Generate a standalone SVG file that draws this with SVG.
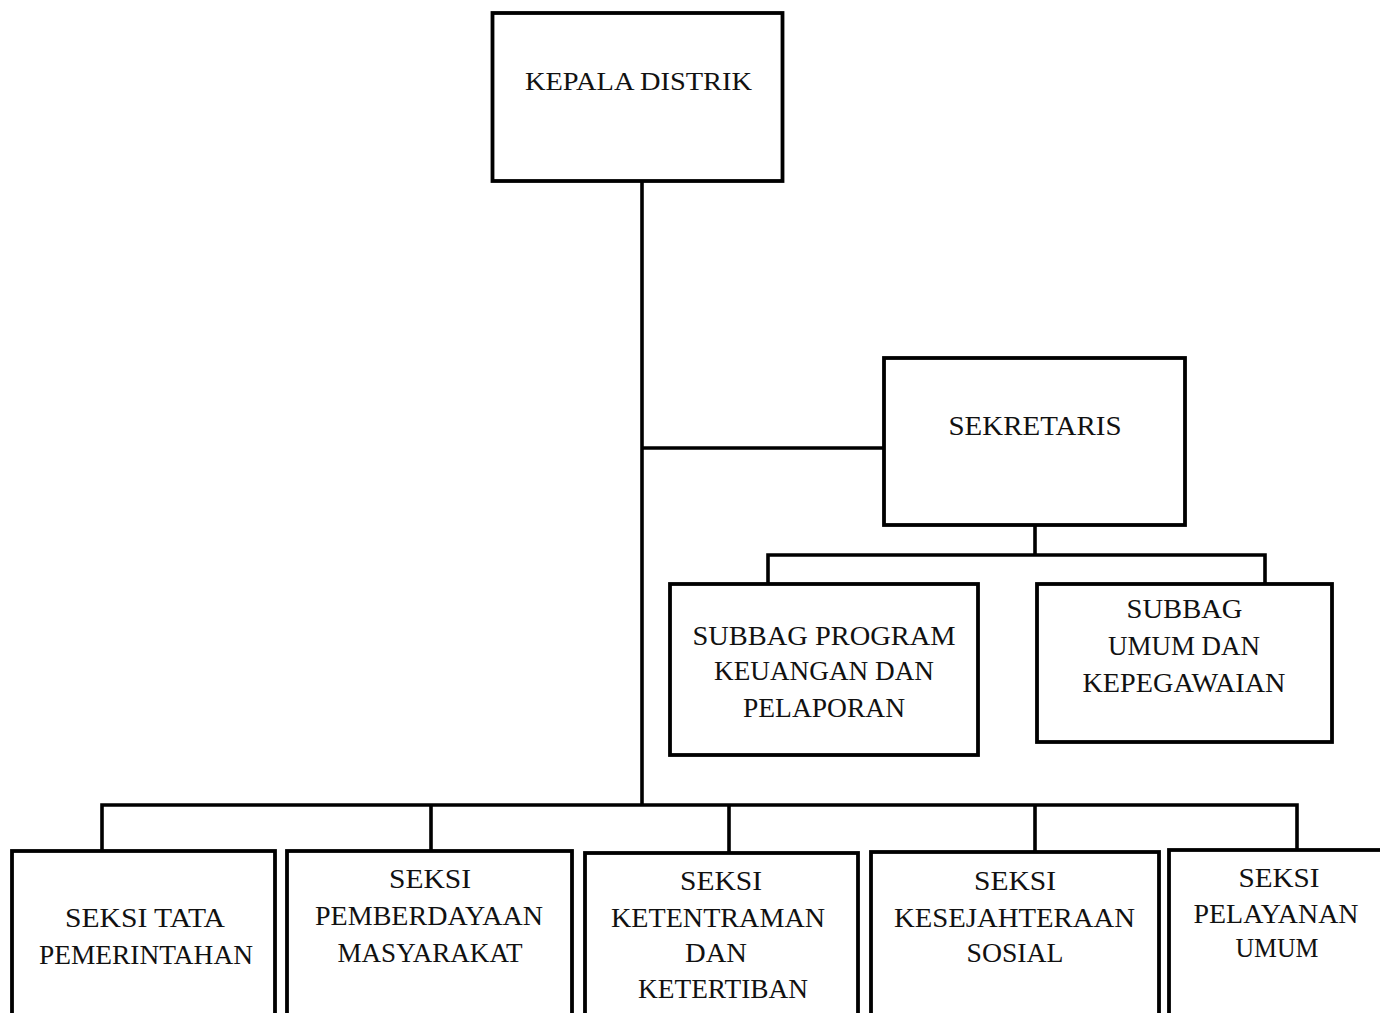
<svg xmlns="http://www.w3.org/2000/svg" width="1380" height="1013" viewBox="0 0 1380 1013">
<style>
.box{fill:#fff;stroke:#000;stroke-width:3.8}
.ln{fill:none;stroke:#000;stroke-width:3.6}
text{font-family:"Liberation Serif","Times New Roman",serif;font-size:27px;fill:#111;text-anchor:middle}
.sm{font-size:25px}
</style>
<rect width="1380" height="1013" fill="#fff"/>
<g id="connectors">
<path class="ln" d="M642 182V805"/>
<path class="ln" d="M642 448H884"/>
<path class="ln" d="M1035 526V555M768 583V555H1265V583"/>
<path class="ln" d="M102 851V805H1297V851M431 805V851M729 805V853M1035 805V852"/>
</g>
<g id="kepala"><rect class="box" x="492.5" y="13" width="290" height="168"/><text class="sm" x="638.5" y="90" textLength="227" lengthAdjust="spacingAndGlyphs">KEPALA DISTRIK</text></g>
<g id="sekretaris"><rect class="box" x="884" y="358" width="301" height="167"/><text x="1035" y="435" textLength="173" lengthAdjust="spacingAndGlyphs">SEKRETARIS</text></g>
<g id="subbag-program"><rect class="box" x="670" y="584" width="308" height="171"/><text x="824" y="645" textLength="263" lengthAdjust="spacingAndGlyphs">SUBBAG PROGRAM</text><text x="824" y="680" textLength="220" lengthAdjust="spacingAndGlyphs">KEUANGAN DAN</text><text x="824" y="717" textLength="162" lengthAdjust="spacingAndGlyphs">PELAPORAN</text></g>
<g id="subbag-umum"><rect class="box" x="1037" y="584" width="295" height="158"/><text x="1184.5" y="618" textLength="116" lengthAdjust="spacingAndGlyphs">SUBBAG</text><text x="1184" y="655" textLength="152" lengthAdjust="spacingAndGlyphs">UMUM DAN</text><text x="1184" y="692" textLength="203" lengthAdjust="spacingAndGlyphs">KEPEGAWAIAN</text></g>
<g id="seksi-tata"><rect class="box" x="12" y="851" width="263" height="180"/><text x="145" y="927" textLength="160" lengthAdjust="spacingAndGlyphs">SEKSI TATA</text><text x="146" y="964" textLength="214" lengthAdjust="spacingAndGlyphs">PEMERINTAHAN</text></g>
<g id="seksi-pemberdayaan"><rect class="box" x="287" y="851" width="285" height="180"/><text x="430" y="888" textLength="82" lengthAdjust="spacingAndGlyphs">SEKSI</text><text x="429" y="925" textLength="228" lengthAdjust="spacingAndGlyphs">PEMBERDAYAAN</text><text x="430" y="962" textLength="185" lengthAdjust="spacingAndGlyphs">MASYARAKAT</text></g>
<g id="seksi-ketentraman"><rect class="box" x="585" y="853" width="273" height="180"/><text x="721" y="890" textLength="82" lengthAdjust="spacingAndGlyphs">SEKSI</text><text x="718" y="927" textLength="214" lengthAdjust="spacingAndGlyphs">KETENTRAMAN</text><text x="716" y="962" textLength="62" lengthAdjust="spacingAndGlyphs">DAN</text><text x="723" y="998" textLength="170" lengthAdjust="spacingAndGlyphs">KETERTIBAN</text></g>
<g id="seksi-kesejahteraan"><rect class="box" x="871" y="852" width="288" height="180"/><text x="1015" y="890" textLength="82" lengthAdjust="spacingAndGlyphs">SEKSI</text><text x="1014.5" y="927" textLength="241" lengthAdjust="spacingAndGlyphs">KESEJAHTERAAN</text><text x="1015" y="962" textLength="97" lengthAdjust="spacingAndGlyphs">SOSIAL</text></g>
<g id="seksi-pelayanan"><rect class="box" x="1169" y="850" width="240" height="180"/><text x="1279" y="887" textLength="81" lengthAdjust="spacingAndGlyphs">SEKSI</text><text x="1276" y="923" textLength="165" lengthAdjust="spacingAndGlyphs">PELAYANAN</text><text x="1277" y="957" textLength="83" lengthAdjust="spacingAndGlyphs">UMUM</text></g>
</svg>
